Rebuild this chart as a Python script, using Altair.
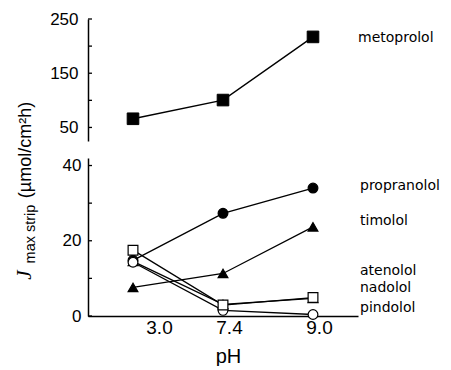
import altair as alt
import pandas as pd

# ---- data ----
ph_labels = ["3.0", "7.4", "9.0"]

metoprolol = [66, 100.5, 217]
propranolol = [14.8, 27.3, 34.0]
timolol = [7.6, 11.3, 23.7]
nadolol = [14.5, 3.1, 4.7]
pindolol = [14.3, 1.5, 0.4]
atenolol = [17.5, 2.9, 4.9]

bottom_series = ["propranolol", "timolol", "nadolol", "pindolol", "atenolol"]
bottom_values = [propranolol, timolol, nadolol, pindolol, atenolol]

shape_domain = ["metoprolol", "propranolol", "timolol", "nadolol", "pindolol", "atenolol"]
shape_range = ["square", "circle", "triangle-up", "triangle-up", "circle", "square"]
fill_range = ["black", "black", "black", "white", "white", "white"]

top_label_names = ["metoprolol"]
top_label_at = [215]
bottom_label_names = ["propranolol", "timolol", "atenolol", "nadolol", "pindolol"]
bottom_label_at = [34.6, 25.3, 12.0, 7.4, 2.1]

top_ticks = [50, 100, 150, 200, 250]
top_tick_labels = [50, 150, 250]
bottom_ticks = [0, 10, 20, 30, 40]
bottom_tick_labels = [0, 20, 40]

title_pieces = ["J", "max strip", "(µmol/cm²h)"]

FONT = "Liberation Sans"

# ---- tables ----
top_df = pd.DataFrame({"series": "metoprolol", "pH": ph_labels, "value": metoprolol})
rows = []
for s, vals in zip(bottom_series, bottom_values):
    for p, v in zip(ph_labels, vals):
        rows.append({"series": s, "pH": p, "value": v})
bottom_df = pd.DataFrame(rows)

W = 270
x_enc_top = alt.X("pH:N", sort=ph_labels, scale=alt.Scale(type="point", padding=0.5), axis=None)
x_enc_bottom = alt.X(
    "pH:N", sort=ph_labels, scale=alt.Scale(type="point", padding=0.5),
    axis=alt.Axis(
        title="pH", labelAngle=0, ticks=False, tickSize=0, grid=False,
        domainColor="black", domainWidth=1.5,
        labelFont=FONT, labelFontSize=19, labelColor="black",
        labelPadding=17, labelBaseline="alphabetic",
        labelOffset={"condition": {"test": "datum.label == '3.0'", "value": 26}, "value": 6},
        titleFont=FONT, titleFontSize=20, titleFontWeight="normal", titleColor="black",
        titleX=140, titleY=46, titleBaseline="alphabetic", titleAlign="center",
    ),
)

shape_enc = alt.Shape("series:N", scale=alt.Scale(domain=shape_domain, range=shape_range), legend=None)
fill_enc = alt.Fill("series:N", scale=alt.Scale(domain=shape_domain, range=fill_range), legend=None)


def y_axis(values, pad):
    return alt.Axis(
        values=values, title=None, ticks=False, grid=False,
        domainColor="black", domainWidth=1.5,
        labelFont=FONT, labelFontSize=17, labelColor="black", labelPadding=pad,
    )


# ---- top panel ----
top_y = alt.Y("value:Q", scale=alt.Scale(domain=[25, 250], nice=False, zero=False),
              axis=y_axis(top_tick_labels, 10))
top_base = alt.Chart(top_df)
top_line = top_base.mark_line(color="black", strokeWidth=1.4).encode(x=x_enc_top, y=top_y, detail="series:N")
top_pts = top_base.mark_point(filled=True, size=135, stroke="black", strokeWidth=1, opacity=1).encode(
    x=x_enc_top, y=top_y, shape=shape_enc, fill=fill_enc)
top_tick_layer = alt.Chart(pd.DataFrame({"value": top_ticks})).mark_rule(color="black", strokeWidth=1.3).encode(
    y=alt.Y("value:Q"), x=alt.value(0), x2=alt.value(4))
top_text = alt.Chart(pd.DataFrame({"name": top_label_names, "value": top_label_at})).mark_text(
    align="left", baseline="middle", font="DejaVu Sans", fontSize=14, color="black").encode(
    y=alt.Y("value:Q"), text="name:N", x=alt.value(270))
top = alt.layer(top_line, top_tick_layer, top_pts, top_text).properties(width=W, height=122)

# ---- bottom panel ----
bot_y = alt.Y("value:Q", scale=alt.Scale(domain=[0, 42], nice=False, zero=False),
              axis=y_axis(bottom_tick_labels, 7))
bot_base = alt.Chart(bottom_df)
bot_line = bot_base.mark_line(color="black", strokeWidth=1.3).encode(x=x_enc_bottom, y=bot_y, detail="series:N")
bot_pts = bot_base.mark_point(filled=True, size=95, stroke="black", strokeWidth=1.2, opacity=1).encode(
    x=x_enc_bottom, y=bot_y, shape=shape_enc, fill=fill_enc)
bot_tick_layer = alt.Chart(pd.DataFrame({"value": bottom_ticks})).mark_rule(color="black", strokeWidth=1.3).encode(
    y=alt.Y("value:Q"), x=alt.value(0), x2=alt.value(4))
bot_text = alt.Chart(pd.DataFrame({"name": bottom_label_names, "value": bottom_label_at})).mark_text(
    align="left", baseline="middle", font="DejaVu Sans", fontSize=14, color="black").encode(
    y=alt.Y("value:Q"), text="name:N", x=alt.value(272))

t_j = alt.Chart(pd.DataFrame({"s": [title_pieces[0]]})).mark_text(
    angle=270, align="center", baseline="alphabetic", font="Liberation Serif", fontStyle="italic",
    fontSize=21, color="black").encode(text="s:N", x=alt.value(-57), y=alt.value(117))
t_sub = alt.Chart(pd.DataFrame({"s": [title_pieces[1]]})).mark_text(
    angle=270, align="center", baseline="alphabetic", font=FONT, fontSize=14.5, color="black").encode(
    text="s:N", x=alt.value(-53), y=alt.value(76))
t_unit = alt.Chart(pd.DataFrame({"s": [title_pieces[2]]})).mark_text(
    angle=270, align="center", baseline="alphabetic", font=FONT, fontSize=18, color="black").encode(
    text="s:N", x=alt.value(-57), y=alt.value(-8))

bottom = alt.layer(bot_line, bot_tick_layer, bot_pts, bot_text, t_j, t_sub, t_unit).properties(width=W, height=158)

chart = alt.vconcat(top, bottom, spacing=17, bounds="flush").properties(
    padding={"left": 14, "top": 10, "right": 0, "bottom": 0}
).configure(background="white").configure_view(strokeWidth=0, stroke="transparent")

chart.save("out.html", embed_options={"renderer": "svg", "actions": False})
